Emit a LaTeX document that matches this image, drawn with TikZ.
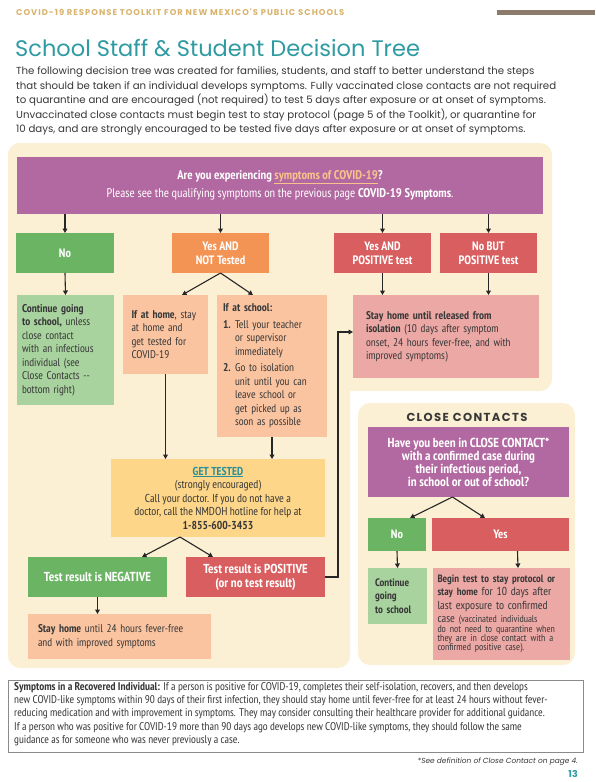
\documentclass[tikz,border=0pt]{standalone}
\usepackage{fontspec}
\setmainfont{Poppins}
\newfontfamily\narrow[AutoFakeSlant=0.2]{PT Sans Narrow}
\newfontfamily\popsp[LetterSpace=12]{Poppins}
\newfontfamily\popcc[LetterSpace=12]{Poppins}
\usetikzlibrary{arrows.meta,calc}
\definecolor{cream}{HTML}{FBF0D4}
\definecolor{purp}{HTML}{B268A0}
\definecolor{grn}{HTML}{6BB463}
\definecolor{orng}{HTML}{F39455}
\definecolor{redb}{HTML}{D95E5F}
\definecolor{lgrn}{HTML}{A8D29E}
\definecolor{peach}{HTML}{FAC4A1}
\definecolor{pinkb}{HTML}{EBA8A5}
\definecolor{yell}{HTML}{FDD689}
\definecolor{gold}{HTML}{D9B46E}
\definecolor{teal}{HTML}{2E9BA3}
\definecolor{tealdk}{HTML}{2A8F98}
\definecolor{brownbar}{HTML}{8C7B6B}
\definecolor{txt}{HTML}{383838}
\definecolor{linkc}{HTML}{F7C38C}
\definecolor{arrc}{HTML}{262626}
\definecolor{frame}{HTML}{8A8A8A}
\tikzset{
  fbox/.style={draw=none, inner sep=0pt, outer sep=0pt,
    font=\narrow\fontsize{11.2}{13.5}\selectfont},
  dark/.style={fbox, text=white, font=\narrow\bfseries\fontsize{12.2}{13.5}\selectfont, align=center},
  light/.style={fbox, text=txt, align=left},
  arr/.style={-{Triangle[length=4.5pt,width=4.8pt]}, line width=1.1pt, draw=arrc},
  panel/.style={fill=cream, rounded corners=12pt},
}
\begin{document}
\begin{tikzpicture}[x=1pt,y=-1pt]
\useasboundingbox (0,0) rectangle (595,782);
\fill[white] (0,0) rectangle (595,782);

% header
\node[anchor=base west, inner sep=0pt, text=gold, font=\popsp\bfseries\fontsize{8.4}{9}\selectfont] (hdr) at (16,15) {COVID-19 RESPONSE TOOLKIT FOR NEW MEXICO'S PUBLIC SCHOOLS};
\fill[brownbar] (497,9.5) rectangle (595,14.5);
\node[anchor=base west, inner sep=0pt, text=teal, font=\fontsize{22.5}{26}\selectfont] (title) at (15,56) {School Staff \& Student Decision Tree};
\node[anchor=north west, inner sep=0pt, text=txt, align=left, font=\fontsize{10.2}{14.4}\selectfont] (intro) at (16,67) {The following decision tree was created for families, students, and staff to better understand the steps\\
that should be taken if an individual develops symptoms. Fully vaccinated close contacts are not required\\
to quarantine and are encouraged (not required) to test 5 days after exposure or at onset of symptoms.\\
Unvaccinated close contacts must begin test to stay protocol (page 5 of the Toolkit), or quarantine for\\
10 days, and are strongly encouraged to be tested five days after exposure or at onset of symptoms.};

% panels
\fill[panel] (8,143) rectangle (552,391);
\fill[panel] (8,143) rectangle (350,668);
\fill[panel] (358,403) rectangle (575,665);

% top question
\node[dark, fill=purp, minimum width=526, minimum height=57, font=\narrow\fontsize{12.6}{14}\selectfont] (q) at (280,185.5)
 {{\bfseries Are you experiencing \textcolor{linkc}{\underline{symptoms of COVID-19}}?}\\[4.5pt]
  Please see the qualifying symptoms on the previous page {\bfseries\itshape COVID-19 Symptoms}.};

% row 2
\node[dark, fill=grn, minimum width=98, minimum height=40] (no1) at (65,253) {No};
\node[dark, fill=orng, minimum width=97, minimum height=40] (yesnt) at (220.5,253) {Yes AND\\NOT Tested};
\node[dark, fill=redb, minimum width=97, minimum height=40] (yespos) at (382.5,253) {Yes AND\\POSITIVE test};
\node[dark, fill=redb, minimum width=97, minimum height=40] (nobut) at (488.5,253) {No BUT\\POSITIVE test};

\foreach \n in {no1,yesnt,yespos,nobut}{\draw[arr] (q.south -| \n.north) -- (\n.north);}

% row 3
\node[light, fill=lgrn, minimum width=97, minimum height=110, text width=87] (cont) at (65.5,350)
 {{\bfseries Continue going}\\{\bfseries to school,} unless\\close contact\\with an infectious\\individual (see\\Close Contacts --\\bottom right)};
\node[light, fill=peach, minimum width=85, minimum height=79, text width=68] (home) at (165.5,334.5)
 {\mbox{{\bfseries If at home}, stay}\\at home and\\get tested for\\COVID-19};
\node[light, fill=peach, minimum width=110, minimum height=142, text width=98] (school) at (272,366)
 {{\bfseries If at school:}\\[3pt]
  \makebox[12pt][l]{\bfseries 1.}Tell your teacher\\
  \hspace*{12pt}or supervisor\\
  \hspace*{12pt}immediately\\[3pt]
  \makebox[12pt][l]{\bfseries 2.}Go to isolation\\
  \hspace*{12pt}unit until you can\\
  \hspace*{12pt}leave school or\\
  \hspace*{12pt}get picked up as\\
  \hspace*{12pt}soon as possible};
\node[light, fill=pinkb, minimum width=186, minimum height=83, text width=160] (stay) at (446,336.5)
 {{\bfseries Stay home until released from}\\{\bfseries isolation} (10 days after symptom\\onset, 24 hours fever-free, and with\\improved symptoms)};

\draw[arr] (no1.south) -- (cont.north);
\draw[arr] (yesnt.south) -- ([xshift=16.5pt]home.north);
\draw[arr] (yesnt.south) -- ([xshift=-19pt]school.north);
\draw[arr] (yespos.south) -- (yespos.south |- stay.north);
\draw[arr] (nobut.south) -- (nobut.south |- stay.north);

% get tested
\node[fbox, fill=yell, text=txt, align=center, minimum width=214, minimum height=78, font=\narrow\fontsize{11.5}{13.5}\selectfont] (get) at (218,498)
 {{\bfseries\color{tealdk}\underline{GET TESTED}}\\(strongly encouraged)\\Call your doctor. If you do not have a\\doctor, call the NMDOH hotline for help at\\{\bfseries 1-855-600-3453}};
\draw[arr] (home.south) -- (home.south |- get.north);
\draw[arr] (school.south) -- (school.south |- get.north);

% results
\node[dark, fill=grn, minimum width=139, minimum height=40, font=\narrow\bfseries\fontsize{13}{14}\selectfont] (neg) at (97.5,577) {Test result is NEGATIVE};
\node[dark, fill=redb, minimum width=139, minimum height=40, font=\narrow\bfseries\fontsize{13}{14}\selectfont] (pos) at (255.5,577) {Test result is POSITIVE\\(or no test result)};
\draw[arr] ([xshift=-38pt]get.south) -- ([xshift=44.5pt]neg.north);
\draw[arr] ([xshift=-38pt]get.south) -- ([xshift=-42.5pt]pos.north);

\node[light, fill=peach, minimum width=183, minimum height=45, text width=163] (stayhome) at (119.5,636.5)
 {{\bfseries Stay home} until 24 hours fever-free\\and with improved symptoms};
\draw[arr] (neg.south) -- (neg.south |- stayhome.north);

\coordinate (bend) at (338,332);
\draw[arr] (pos.east) -| (bend) -- (bend -| stay.west);

% close contacts
\node[inner sep=0pt, text=txt, font=\popcc\bfseries\fontsize{11.6}{12}\selectfont] (cch) at (467,417) {CLOSE CONTACTS};
\node[dark, fill=purp, minimum width=201, minimum height=70, font=\narrow\bfseries\fontsize{13.1}{13}\selectfont] (ccq) at (468.5,462)
 {Have you been in CLOSE CONTACT*\\with a confirmed case during\\their infectious period,\\in school or out of school?};
\node[dark, fill=grn, minimum width=58, minimum height=33] (ccno) at (397,534.5) {No};
\node[dark, fill=redb, minimum width=137, minimum height=33] (ccyes) at (500.5,534.5) {Yes};
\node[light, fill=lgrn, minimum width=59, minimum height=56, text width=45, font=\narrow\bfseries\fontsize{10.8}{13.3}\selectfont] (cccont) at (397.5,596)
 {Continue\\going\\to school};
\node[light, fill=pinkb, minimum width=137, minimum height=92, text width=127, font=\narrow\fontsize{11.6}{13.5}\selectfont] (ccbegin) at (501,614)
 {{\bfseries\fontsize{10.6}{13.5}\selectfont Begin test to stay protocol or}\\{\bfseries\fontsize{10.6}{13.5}\selectfont stay home} for 10 days after\\last exposure to confirmed\\case {\fontsize{9.8}{9}\selectfont (vaccinated individuals}\\[-4.2pt]
  {\fontsize{9.8}{9}\selectfont do not need to quarantine when}\\[-4.2pt]
  {\fontsize{9.8}{9}\selectfont they are in close contact with a}\\[-4.2pt]
  {\fontsize{9.8}{9}\selectfont confirmed positive case).}};
\draw[arr] ([xshift=-16pt]ccq.south) -- ([xshift=13pt]ccno.north);
\draw[arr] ([xshift=-16pt]ccq.south) -- ([xshift=-15.5pt]ccyes.north);
\draw[arr] (ccno.south) -- (cccont.north);
\draw[arr] ([xshift=17pt]ccyes.south) -- ([xshift=17pt]ccbegin.north);

% recovered box
\node[draw=frame, line width=0.9pt, fill=white, minimum width=575, minimum height=72, inner sep=0pt] (rec) at (295.5,716) {};
\node[anchor=north west, inner sep=0pt, text=txt, align=left, font=\narrow\fontsize{11.2}{13}\selectfont] (rectxt) at (14,682)
 {{\bfseries Symptoms in a Recovered Individual:} If a person is positive for COVID-19, completes their self-isolation, recovers, and then develops\\
 new COVID-like symptoms within 90 days of their first infection, they should stay home until fever-free for at least 24 hours without fever-\\
 reducing medication and with improvement in symptoms. They may consider consulting their healthcare provider for additional guidance.\\[1pt]
 If a person who was positive for COVID-19 more than 90 days ago develops new COVID-like symptoms, they should follow the same\\
 guidance as for someone who was never previously a case.};

\node[anchor=base east, inner sep=0pt, text=txt, font=\itshape\fontsize{7.4}{8}\selectfont] (foot) at (578,763) {*See definition of Close Contact on page 4.};
\node[anchor=base east, inner sep=0pt, text=teal, font=\bfseries\fontsize{9.5}{11}\selectfont] (pg) at (578,777) {13};
\end{tikzpicture}
\end{document}
